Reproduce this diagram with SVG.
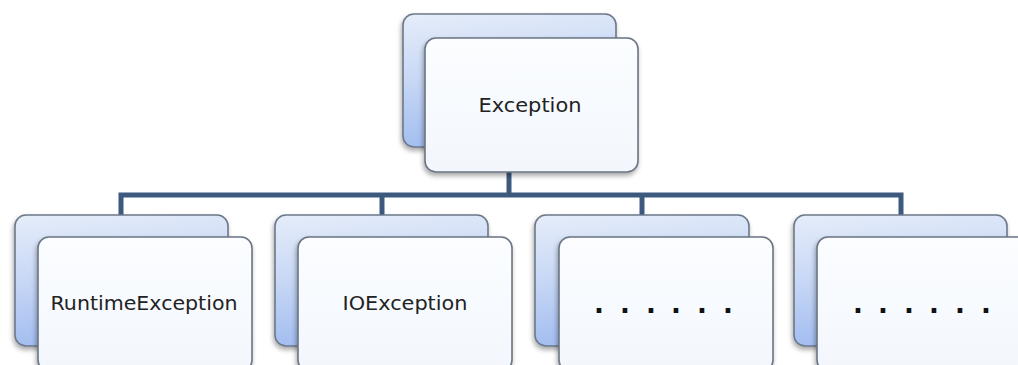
<svg xmlns="http://www.w3.org/2000/svg" width="1018" height="365" viewBox="0 0 1018 365">
<defs>
<linearGradient id="backGrad" x1="0" y1="0" x2="0.15" y2="1">
<stop offset="0" stop-color="#e6edfa"/>
<stop offset="0.5" stop-color="#c7d7f5"/>
<stop offset="1" stop-color="#a2bdf0"/>
</linearGradient>
<linearGradient id="frontGrad" x1="0" y1="0" x2="0" y2="1">
<stop offset="0" stop-color="#fbfdff"/>
<stop offset="1" stop-color="#f3f7fd"/>
</linearGradient>
<filter id="shadow" x="-10%" y="-10%" width="125%" height="130%">
<feGaussianBlur in="SourceAlpha" stdDeviation="2.5"/>
<feOffset dx="-1" dy="3" result="b"/>
<feComponentTransfer><feFuncA type="linear" slope="0.35"/></feComponentTransfer>
<feMerge><feMergeNode/><feMergeNode in="SourceGraphic"/></feMerge>
</filter>
</defs>
<style>
.back{fill:url(#backGrad);stroke:#6c7889;stroke-width:1.6}
.front{fill:url(#frontGrad);stroke:#6a7484;stroke-width:1.6}
.lbl{font-family:"DejaVu Sans",sans-serif;font-size:20px;fill:#222;text-anchor:middle}
.dots{font-family:"DejaVu Sans",sans-serif;font-size:26px;font-weight:bold;fill:#111;text-anchor:middle}
.conn{stroke:#3d5a7e;stroke-width:5;fill:none}
</style>
<rect width="1018" height="365" fill="#ffffff"/>
<g id="connectors">
<line class="conn" x1="509" y1="150" x2="509" y2="195"/>
<polyline class="conn" points="121,216 121,195 901,195 901,216" stroke-linejoin="miter"/>
<line class="conn" x1="382" y1="195" x2="382" y2="216"/>
<line class="conn" x1="642" y1="195" x2="642" y2="216"/>
</g>
<g id="node-exception">
<rect class="back" x="403" y="14" width="213" height="133" rx="11" filter="url(#shadow)"/>
<rect class="front" x="425" y="38" width="213" height="134" rx="11" filter="url(#shadow)"/>
<text class="lbl" x="530" y="112" textLength="103" lengthAdjust="spacingAndGlyphs">Exception</text>
</g>
<g id="node-runtime">
<rect class="back" x="15" y="215" width="213" height="131" rx="11" filter="url(#shadow)"/>
<rect class="front" x="38" y="237" width="214" height="134" rx="11" filter="url(#shadow)"/>
<text class="lbl" x="144" y="310" textLength="187" lengthAdjust="spacingAndGlyphs">RuntimeException</text>
</g>
<g id="node-io">
<rect class="back" x="275" y="215" width="213" height="131" rx="11" filter="url(#shadow)"/>
<rect class="front" x="298" y="237" width="214" height="134" rx="11" filter="url(#shadow)"/>
<text class="lbl" x="405" y="310" textLength="125" lengthAdjust="spacingAndGlyphs">IOException</text>
</g>
<g id="node-dots1">
<rect class="back" x="535" y="215" width="214" height="131" rx="11" filter="url(#shadow)"/>
<rect class="front" x="559" y="237" width="214" height="134" rx="11" filter="url(#shadow)"/>
<text class="dots" x="599 625 651 676 702 728" y="313">......</text>
</g>
<g id="node-dots2">
<rect class="back" x="794" y="215" width="213" height="131" rx="11" filter="url(#shadow)"/>
<rect class="front" x="817" y="237" width="214" height="134" rx="11" filter="url(#shadow)"/>
<text class="dots" x="858 883 909 934 960 986" y="313">......</text>
</g>
</svg>
